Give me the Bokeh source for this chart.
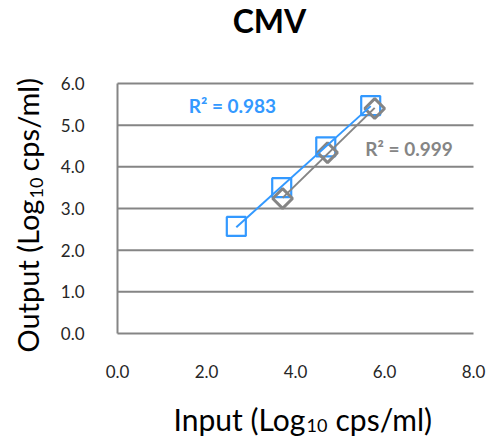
import numpy as np
from bokeh.plotting import figure
from bokeh.core.properties import value
from bokeh.embed import file_html
from bokeh.resources import INLINE

# data
blue_x = [2.67, 3.69, 4.68, 5.69]
blue_y = [2.57, 3.50, 4.48, 5.47]
gray_x = [3.71, 4.72, 5.78]
gray_y = [3.24, 4.34, 5.40]
blue_r2 = "R² = 0.983"
gray_r2 = "R² = 0.999"
x_ticks = [0, 2, 4, 6, 8]
y_ticks = [0, 1, 2, 3, 4, 5, 6]
title_text = "CMV"

BLUE = "#3399ff"
GRAY = "#858585"
TXT = "#262626"
FONT = value("Lato")
W, H = 487, 436

# plot-area geometry (canvas pixels)
L, R, T, B = 117, 473, 83, 333
X0, X1 = min(x_ticks), max(x_ticks)
Y0, Y1 = min(y_ticks), max(y_ticks)
sx = (R - L) / (X1 - X0)
syy = (B - T) / (Y1 - Y0)
x_range = (X0 - L / sx, X1 + (W - R) / sx)
y_range = (Y0 - (H - B) / syy, Y1 + T / syy)

p = figure(width=W, height=H, output_backend="svg", toolbar_location=None,
           x_range=x_range, y_range=y_range,
           x_axis_location=None, y_axis_location=None,
           min_border=0)
p.outline_line_color = None
p.grid.visible = False
p.background_fill_color = "white"
p.border_fill_color = "white"

# gridlines and left axis line
p.segment(x0=[X0] * len(y_ticks), x1=[X1] * len(y_ticks), y0=y_ticks, y1=y_ticks,
          line_color=GRAY, line_width=2)
p.segment(x0=[X0], x1=[X0], y0=[Y0], y1=[Y1], line_color=GRAY, line_width=2)

# tick labels
p.text(x=[X0] * len(y_ticks), y=y_ticks, text=[f"{v:.1f}" for v in y_ticks],
       x_offset=-33, text_align="right", text_baseline="middle",
       text_font=FONT, text_font_size="17px", text_color=TXT)
p.text(x=x_ticks, y=[Y0] * len(x_ticks), text=[f"{v:.1f}" for v in x_ticks],
       y_offset=31, text_align="center", text_baseline="top",
       text_font=FONT, text_font_size="17px", text_color=TXT)

# trend lines (least squares fit over each series)
bb = np.polyfit(blue_x, blue_y, 1)
gb = np.polyfit(gray_x, gray_y, 1)
bx = np.array([min(blue_x), max(blue_x)])
gx = np.array([min(gray_x), max(gray_x)])

p.scatter(blue_x, blue_y, marker="square", size=19, fill_color=None,
          line_color=BLUE, line_width=2.2)
p.scatter(gray_x, gray_y, marker="square", size=14, angle=np.pi / 4, fill_color=None,
          line_color=GRAY, line_width=3)
p.line(gx, np.polyval(gb, gx), line_color=GRAY, line_width=2)
p.line(bx, np.polyval(bb, bx), line_color=BLUE, line_width=2)

# R² labels
p.text(x=[1.6], y=[5.47], text=[blue_r2], text_font=FONT, text_font_style="bold",
       text_font_size="19px", text_color=BLUE, text_baseline="middle")
p.text(x=[5.57], y=[4.44], text=[gray_r2], text_font=FONT, text_font_style="bold",
       text_font_size="19px", text_color=GRAY, text_baseline="middle")

def piece(txt, dx, dy, size, angle=0.0, bold=False, align="left"):
    p.text(x=[X0], y=[Y0], text=[txt], x_offset=dx, y_offset=dy, angle=angle,
           text_font=FONT, text_font_size=size, text_color="#000000",
           text_font_style="bold" if bold else "normal",
           text_align=align, text_baseline="middle")

# title
piece(title_text, 152, -313, "32px", bold=True, align="center")

# x axis label with subscript
piece("Input (Log", 56, 85, "30px")
piece("10", 189, 92, "18px")
piece("cps/ml)", 218, 85, "30px")

# y axis label with subscript (rotated)
piece("Output (Log", -90, 19, "29px", angle=np.pi / 2)
piece("10", -81, -135, "18px", angle=np.pi / 2)
piece("cps/ml)", -90, -162, "29px", angle=np.pi / 2)

open("out.html", "w").write(file_html(p, INLINE))
